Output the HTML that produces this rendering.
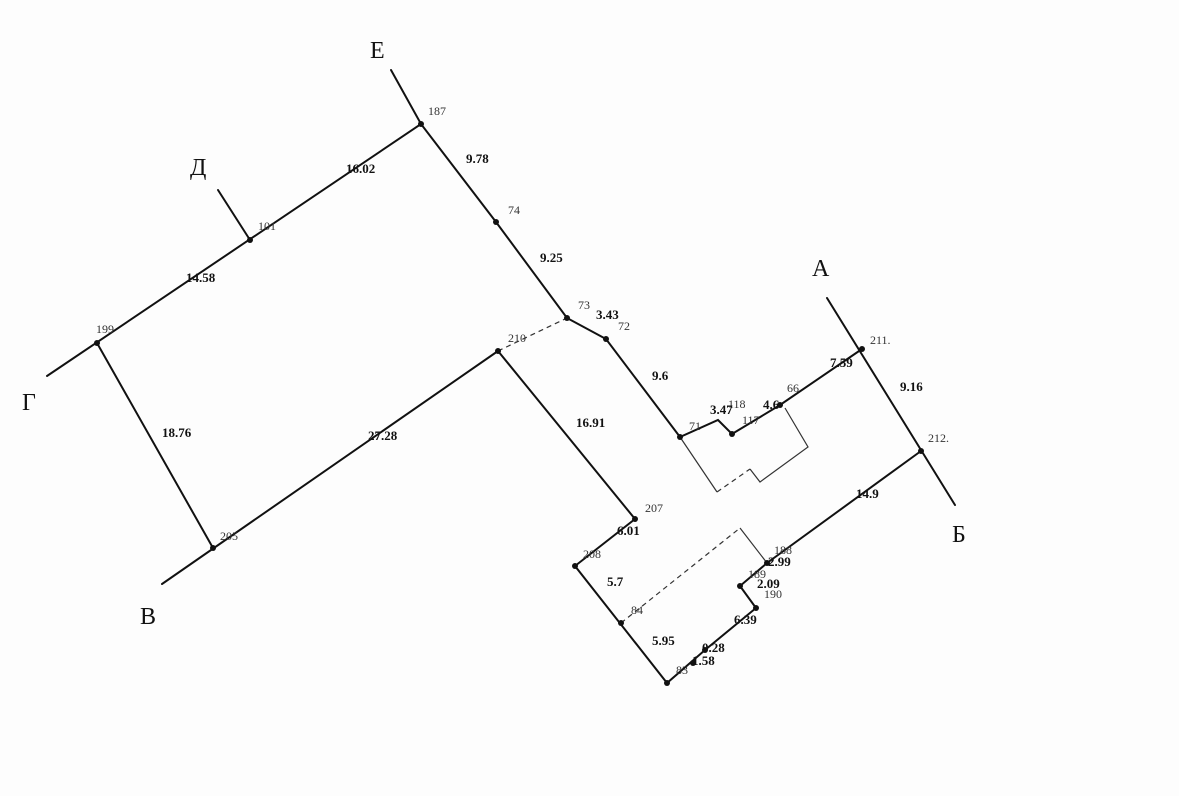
<!DOCTYPE html>
<html><head><meta charset="utf-8"><style>
html,body{margin:0;padding:0;background:#fff;}
svg{display:block}
text{font-family:"Liberation Serif",serif;fill:#111}
.b{font-weight:bold;font-size:13px}
.n{font-size:12px;fill:#333}
.L{font-size:24px}
</style></head><body>
<svg width="1179" height="796" viewBox="0 0 1179 796" xmlns="http://www.w3.org/2000/svg">
<rect width="1179" height="796" fill="#fdfdfd"/>
<g stroke="#111" stroke-width="2" fill="none" stroke-linecap="round">
<polyline points="391,70 421,124 496,222 567,318 606,339 680,437 718,420 732,434 780,405 862,349"/>
<line x1="421" y1="124" x2="47" y2="376"/>
<line x1="218" y1="190" x2="250" y2="240"/>
<line x1="97" y1="343" x2="213" y2="548"/>
<line x1="162" y1="584" x2="498" y2="351"/>
<polyline points="498,351 635,519 575,566 667,683 705,650 756,608 740,586 767,563 921,451"/>
<line x1="827" y1="298" x2="955" y2="505"/>
</g>
<g stroke="#333" stroke-width="1.2" fill="none">
<polyline points="680,437 717,492"/>
<polyline points="750,469 760,482 808,447 785,408"/>
<polyline points="740,528 767,563"/>
</g>
<g stroke="#333" stroke-width="1.2" fill="none" stroke-dasharray="5,4">
<line x1="498" y1="351" x2="567" y2="318"/>
<line x1="717" y1="492" x2="750" y2="469"/>
<line x1="621" y1="623" x2="740" y2="528"/>
</g>
<g fill="#111">
<circle cx="421" cy="124" r="3"/><circle cx="496" cy="222" r="3"/><circle cx="567" cy="318" r="3"/>
<circle cx="606" cy="339" r="3"/><circle cx="680" cy="437" r="3"/><circle cx="732" cy="434" r="3"/>
<circle cx="780" cy="405" r="3"/><circle cx="862" cy="349" r="3"/><circle cx="921" cy="451" r="3"/>
<circle cx="250" cy="240" r="3"/><circle cx="97" cy="343" r="3"/><circle cx="213" cy="548" r="3"/>
<circle cx="498" cy="351" r="3"/><circle cx="635" cy="519" r="3"/><circle cx="575" cy="566" r="3"/>
<circle cx="621" cy="623" r="3"/><circle cx="667" cy="683" r="3"/><circle cx="693" cy="663" r="3"/>
<circle cx="705" cy="650" r="3"/><circle cx="756" cy="608" r="3"/><circle cx="740" cy="586" r="3"/>
<circle cx="767" cy="563" r="3"/>
</g>
<text class="L" x="370" y="58">Е</text>
<text class="L" x="190" y="175">Д</text>
<text class="L" x="22" y="410">Г</text>
<text class="L" x="140" y="624">В</text>
<text class="L" x="812" y="276">А</text>
<text class="L" x="952" y="542">Б</text>
<text class="n" x="428" y="115">187</text>
<text class="n" x="508" y="214">74</text>
<text class="n" x="258" y="230">101</text>
<text class="n" x="96" y="333">199</text>
<text class="n" x="220" y="540">205</text>
<text class="n" x="508" y="342">210</text>
<text class="n" x="578" y="309">73</text>
<text class="n" x="618" y="330">72</text>
<text class="n" x="689" y="430">71</text>
<text class="n" x="728" y="408">118</text>
<text class="n" x="742" y="424">117</text>
<text class="n" x="787" y="392">66</text>
<text class="n" x="870" y="344">211.</text>
<text class="n" x="928" y="442">212.</text>
<text class="n" x="645" y="512">207</text>
<text class="n" x="583" y="558">208</text>
<text class="n" x="631" y="614">84</text>
<text class="n" x="676" y="674">83</text>
<text class="n" x="774" y="554">188</text>
<text class="n" x="748" y="578">189</text>
<text class="n" x="764" y="598">190</text>
<text class="b" x="466" y="163">9.78</text>
<text class="b" x="346" y="173">16.02</text>
<text class="b" x="540" y="262">9.25</text>
<text class="b" x="186" y="282">14.58</text>
<text class="b" x="596" y="319">3.43</text>
<text class="b" x="652" y="380">9.6</text>
<text class="b" x="830" y="367">7.59</text>
<text class="b" x="900" y="391">9.16</text>
<text class="b" x="162" y="437">18.76</text>
<text class="b" x="368" y="440">27.28</text>
<text class="b" x="576" y="427">16.91</text>
<text class="b" x="710" y="414">3.47</text>
<text class="b" x="763" y="409">4.6</text>
<text class="b" x="856" y="498">14.9</text>
<text class="b" x="617" y="535">6.01</text>
<text class="b" x="607" y="586">5.7</text>
<text class="b" x="768" y="566">2.99</text>
<text class="b" x="757" y="588">2.09</text>
<text class="b" x="734" y="624">6.39</text>
<text class="b" x="652" y="645">5.95</text>
<text class="b" x="702" y="652">0.28</text>
<text class="b" x="692" y="665">1.58</text>
</svg>
</body></html>
